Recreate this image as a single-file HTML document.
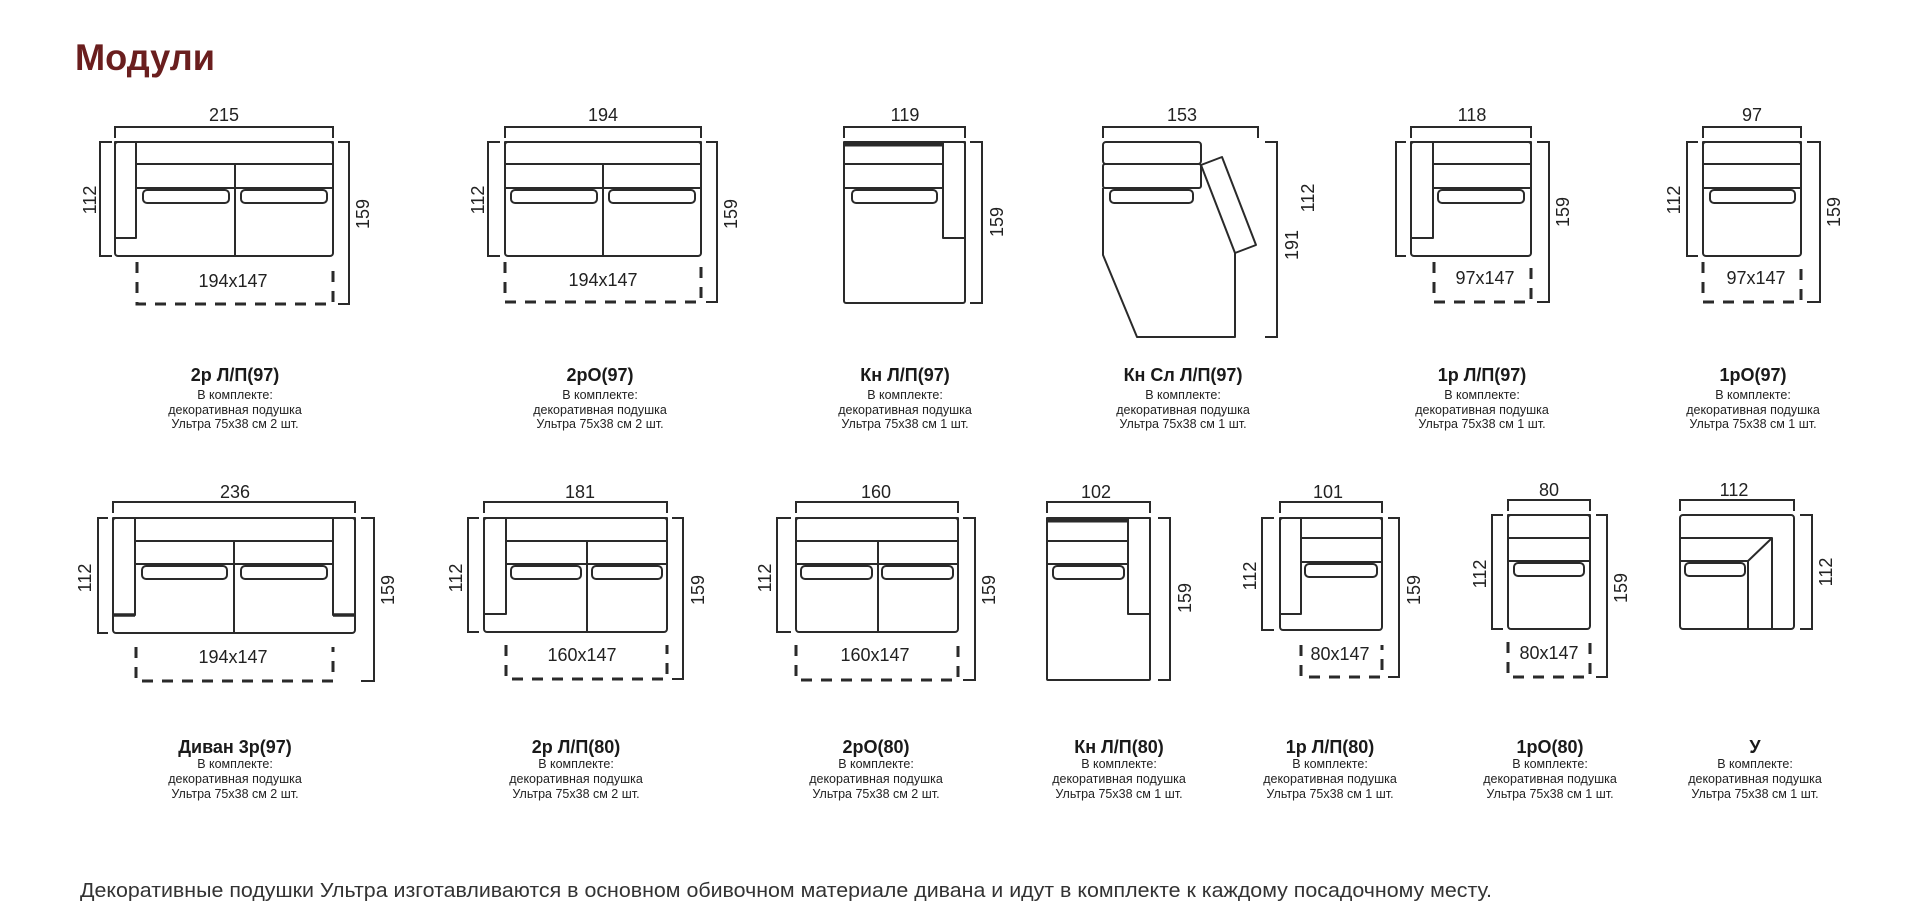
<!DOCTYPE html>
<html><head><meta charset="utf-8"><style>
html,body{margin:0;padding:0;background:#fff;}
svg{display:block;}
.s{fill:none;stroke:#2a2a2a;stroke-width:2;stroke-linejoin:round}
.d{fill:none;stroke:#2a2a2a;stroke-width:3;stroke-dasharray:11 9}
.b{fill:none;stroke:#2a2a2a;stroke-width:2}
.l{font-family:"Liberation Sans",sans-serif;font-size:18px;fill:#222;text-anchor:middle}
.t{font-family:"Liberation Sans",sans-serif;font-size:18px;font-weight:bold;fill:#1a1a1a;text-anchor:middle}
.u{font-family:"Liberation Sans",sans-serif;font-size:12.5px;fill:#222;text-anchor:middle}
</style></head><body>
<svg width="1920" height="909" viewBox="0 0 1920 909" xmlns="http://www.w3.org/2000/svg">
<text x="75" y="70" font-family="Liberation Sans,sans-serif" font-size="37" font-weight="bold" fill="#6a1e1e" textLength="140" lengthAdjust="spacingAndGlyphs">Модули</text>

<!-- M1 -->
<rect class="s" x="115" y="142" width="218" height="114" rx="3"/>
<rect class="s" x="115" y="142" width="21" height="96"/>
<rect class="s" x="136" y="142" width="197" height="22"/>
<rect class="s" x="136" y="164" width="197" height="24"/>
<line class="s" x1="235" y1="164" x2="235" y2="256"/>
<rect class="s" x="143" y="190" width="86" height="13" rx="4"/>
<rect class="s" x="241" y="190" width="86" height="13" rx="4"/>
<path class="d" d="M137 262V304H333V262"/>
<path class="b" d="M115 138V127H333V138M112 142H100V256H112M338 142H349V304H338"/>
<text class="l" x="224" y="121">215</text>
<text class="l" transform="translate(96,200) rotate(-90)">112</text>
<text class="l" transform="translate(369,214) rotate(-90)">159</text>
<text class="l" x="233" y="287">194x147</text>
<text class="t" x="235" y="381">2р Л/П(97)</text>
<text class="u" x="235" y="399">В комплекте:</text>
<text class="u" x="235" y="414">декоративная подушка</text>
<text class="u" x="235" y="428">Ультра 75x38 см 2 шт.</text>

<!-- M2 -->
<rect class="s" x="505" y="142" width="196" height="114" rx="3"/>
<rect class="s" x="505" y="142" width="196" height="22"/>
<rect class="s" x="505" y="164" width="196" height="24"/>
<line class="s" x1="603" y1="164" x2="603" y2="256"/>
<rect class="s" x="511" y="190" width="86" height="13" rx="4"/>
<rect class="s" x="609" y="190" width="86" height="13" rx="4"/>
<path class="d" d="M505 262V302H701V262"/>
<path class="b" d="M505 138V127H701V138M500 142H488V256H500M706 142H717V302H706"/>
<text class="l" x="603" y="121">194</text>
<text class="l" transform="translate(484,200) rotate(-90)">112</text>
<text class="l" transform="translate(737,214) rotate(-90)">159</text>
<text class="l" x="603" y="286">194x147</text>
<text class="t" x="600" y="381">2рО(97)</text>
<text class="u" x="600" y="399">В комплекте:</text>
<text class="u" x="600" y="414">декоративная подушка</text>
<text class="u" x="600" y="428">Ультра 75x38 см 2 шт.</text>

<!-- M3 -->
<rect class="s" x="844" y="142" width="121" height="161" rx="2"/>
<rect class="s" x="943" y="142" width="22" height="96"/>
<rect class="s" x="844" y="142" width="99" height="22"/>
<line x1="844" y1="144.5" x2="943" y2="144.5" stroke="#2a2a2a" stroke-width="4"/>
<rect class="s" x="844" y="164" width="99" height="24"/>
<rect class="s" x="852" y="190" width="85" height="13" rx="4"/>
<path class="b" d="M844 138V127H965V138M970 142H982V303H970"/>
<text class="l" x="905" y="121">119</text>
<text class="l" transform="translate(1003,222) rotate(-90)">159</text>
<text class="t" x="905" y="381">Кн Л/П(97)</text>
<text class="u" x="905" y="399">В комплекте:</text>
<text class="u" x="905" y="414">декоративная подушка</text>
<text class="u" x="905" y="428">Ультра 75x38 см 1 шт.</text>

<!-- M4 -->
<rect class="s" x="1103" y="142" width="98" height="22" rx="3"/>
<rect class="s" x="1103" y="164" width="98" height="24" rx="2"/>
<path class="s" d="M1103 188V255L1137 337H1235V253"/>
<polygon class="s" points="1201,165 1222,157 1256,245 1235,253"/>
<rect class="s" x="1110" y="190" width="83" height="13" rx="4"/>
<path class="b" d="M1103 138V127H1258V138M1265 142H1277V337H1265"/>
<text class="l" x="1182" y="121">153</text>
<text class="l" transform="translate(1298,245) rotate(-90)">191</text>
<text class="l" transform="translate(1314,198) rotate(-90)">112</text>
<text class="t" x="1183" y="381">Кн Сл Л/П(97)</text>
<text class="u" x="1183" y="399">В комплекте:</text>
<text class="u" x="1183" y="414">декоративная подушка</text>
<text class="u" x="1183" y="428">Ультра 75x38 см 1 шт.</text>

<!-- M5 -->
<rect class="s" x="1411" y="142" width="120" height="114" rx="3"/>
<rect class="s" x="1411" y="142" width="22" height="96"/>
<rect class="s" x="1433" y="142" width="98" height="22"/>
<rect class="s" x="1433" y="164" width="98" height="24"/>
<rect class="s" x="1438" y="190" width="86" height="13" rx="4"/>
<path class="d" d="M1434 262V302H1531V262"/>
<path class="b" d="M1411 138V127H1531V138M1406 142H1396V256H1406M1537 142H1549V302H1537"/>
<text class="l" x="1472" y="121">118</text>
<text class="l" transform="translate(1569,212) rotate(-90)">159</text>
<text class="l" x="1485" y="284">97x147</text>
<text class="t" x="1482" y="381">1р Л/П(97)</text>
<text class="u" x="1482" y="399">В комплекте:</text>
<text class="u" x="1482" y="414">декоративная подушка</text>
<text class="u" x="1482" y="428">Ультра 75x38 см 1 шт.</text>

<!-- M6 -->
<rect class="s" x="1703" y="142" width="98" height="114" rx="3"/>
<rect class="s" x="1703" y="142" width="98" height="22"/>
<rect class="s" x="1703" y="164" width="98" height="24"/>
<rect class="s" x="1710" y="190" width="85" height="13" rx="4"/>
<path class="d" d="M1703 262V302H1801V262"/>
<path class="b" d="M1703 138V127H1801V138M1698 142H1687V256H1698M1807 142H1820V302H1807"/>
<text class="l" x="1752" y="121">97</text>
<text class="l" transform="translate(1680,200) rotate(-90)">112</text>
<text class="l" transform="translate(1840,212) rotate(-90)">159</text>
<text class="l" x="1756" y="284">97x147</text>
<text class="t" x="1753" y="381">1рО(97)</text>
<text class="u" x="1753" y="399">В комплекте:</text>
<text class="u" x="1753" y="414">декоративная подушка</text>
<text class="u" x="1753" y="428">Ультра 75x38 см 1 шт.</text>

<!-- M7 -->
<rect class="s" x="113" y="518" width="242" height="115" rx="3"/>
<rect class="s" x="113" y="518" width="22" height="97"/>
<rect class="s" x="333" y="518" width="22" height="97"/>
<line x1="113" y1="615" x2="135" y2="615" stroke="#2a2a2a" stroke-width="3.5"/>
<line x1="333" y1="615" x2="355" y2="615" stroke="#2a2a2a" stroke-width="3.5"/>
<rect class="s" x="135" y="518" width="198" height="23"/>
<rect class="s" x="135" y="541" width="198" height="23"/>
<line class="s" x1="234" y1="541" x2="234" y2="633"/>
<rect class="s" x="142" y="566" width="85" height="13" rx="4"/>
<rect class="s" x="241" y="566" width="86" height="13" rx="4"/>
<path class="d" d="M136 647V681H333V647"/>
<path class="b" d="M113 513V502H355V513M108 518H98V633H108M361 518H374V681H361"/>
<text class="l" x="235" y="498">236</text>
<text class="l" transform="translate(91,578) rotate(-90)">112</text>
<text class="l" transform="translate(394,590) rotate(-90)">159</text>
<text class="l" x="233" y="663">194x147</text>
<text class="t" x="235" y="753">Диван 3р(97)</text>
<text class="u" x="235" y="768">В комплекте:</text>
<text class="u" x="235" y="783">декоративная подушка</text>
<text class="u" x="235" y="798">Ультра 75x38 см 2 шт.</text>

<!-- M8 -->
<rect class="s" x="484" y="518" width="183" height="114" rx="3"/>
<rect class="s" x="484" y="518" width="22" height="96"/>
<rect class="s" x="506" y="518" width="161" height="23"/>
<rect class="s" x="506" y="541" width="161" height="23"/>
<line class="s" x1="587" y1="541" x2="587" y2="632"/>
<rect class="s" x="511" y="566" width="70" height="13" rx="4"/>
<rect class="s" x="592" y="566" width="70" height="13" rx="4"/>
<path class="d" d="M506 645V679H667V645"/>
<path class="b" d="M484 513V502H667V513M479 518H468V632H479M672 518H683V679H672"/>
<text class="l" x="580" y="498">181</text>
<text class="l" transform="translate(462,578) rotate(-90)">112</text>
<text class="l" transform="translate(704,590) rotate(-90)">159</text>
<text class="l" x="582" y="661">160x147</text>
<text class="t" x="576" y="753">2р Л/П(80)</text>
<text class="u" x="576" y="768">В комплекте:</text>
<text class="u" x="576" y="783">декоративная подушка</text>
<text class="u" x="576" y="798">Ультра 75x38 см 2 шт.</text>

<!-- M9 -->
<rect class="s" x="796" y="518" width="162" height="114" rx="3"/>
<rect class="s" x="796" y="518" width="162" height="23"/>
<rect class="s" x="796" y="541" width="162" height="23"/>
<line class="s" x1="878" y1="541" x2="878" y2="632"/>
<rect class="s" x="801" y="566" width="71" height="13" rx="4"/>
<rect class="s" x="882" y="566" width="71" height="13" rx="4"/>
<path class="d" d="M796 645V680H958V645"/>
<path class="b" d="M796 513V502H958V513M791 518H777V632H791M963 518H975V680H963"/>
<text class="l" x="876" y="498">160</text>
<text class="l" transform="translate(771,578) rotate(-90)">112</text>
<text class="l" transform="translate(995,590) rotate(-90)">159</text>
<text class="l" x="875" y="661">160x147</text>
<text class="t" x="876" y="753">2рО(80)</text>
<text class="u" x="876" y="768">В комплекте:</text>
<text class="u" x="876" y="783">декоративная подушка</text>
<text class="u" x="876" y="798">Ультра 75x38 см 2 шт.</text>

<!-- M10 -->
<rect class="s" x="1047" y="518" width="103" height="162" rx="1"/>
<rect class="s" x="1128" y="518" width="22" height="96"/>
<rect class="s" x="1047" y="518" width="81" height="23"/>
<line x1="1047" y1="520.5" x2="1128" y2="520.5" stroke="#2a2a2a" stroke-width="4"/>
<rect class="s" x="1047" y="541" width="81" height="23"/>
<rect class="s" x="1053" y="566" width="71" height="13" rx="4"/>
<path class="b" d="M1047 513V502H1150V513M1158 518H1170V680H1158"/>
<text class="l" x="1096" y="498">102</text>
<text class="l" transform="translate(1191,598) rotate(-90)">159</text>
<text class="t" x="1119" y="753">Кн Л/П(80)</text>
<text class="u" x="1119" y="768">В комплекте:</text>
<text class="u" x="1119" y="783">декоративная подушка</text>
<text class="u" x="1119" y="798">Ультра 75x38 см 1 шт.</text>

<!-- M11 -->
<rect class="s" x="1280" y="518" width="102" height="112" rx="3"/>
<rect class="s" x="1280" y="518" width="21" height="96"/>
<rect class="s" x="1301" y="518" width="81" height="20"/>
<rect class="s" x="1301" y="538" width="81" height="24"/>
<rect class="s" x="1305" y="564" width="72" height="13" rx="4"/>
<path class="d" d="M1301 645V677H1382V645"/>
<path class="b" d="M1280 513V502H1382V513M1274 518H1262V630H1274M1388 518H1399V677H1388"/>
<text class="l" x="1328" y="498">101</text>
<text class="l" transform="translate(1256,576) rotate(-90)">112</text>
<text class="l" transform="translate(1420,590) rotate(-90)">159</text>
<text class="l" x="1340" y="660">80x147</text>
<text class="t" x="1330" y="753">1р Л/П(80)</text>
<text class="u" x="1330" y="768">В комплекте:</text>
<text class="u" x="1330" y="783">декоративная подушка</text>
<text class="u" x="1330" y="798">Ультра 75x38 см 1 шт.</text>

<!-- M12 -->
<rect class="s" x="1508" y="515" width="82" height="114" rx="3"/>
<rect class="s" x="1508" y="515" width="82" height="23"/>
<rect class="s" x="1508" y="538" width="82" height="23"/>
<rect class="s" x="1514" y="563" width="70" height="13" rx="4"/>
<path class="d" d="M1508 642V677H1590V642"/>
<path class="b" d="M1508 511V500H1590V511M1503 515H1492V629H1503M1596 515H1607V677H1596"/>
<text class="l" x="1549" y="496">80</text>
<text class="l" transform="translate(1486,574) rotate(-90)">112</text>
<text class="l" transform="translate(1627,588) rotate(-90)">159</text>
<text class="l" x="1549" y="659">80x147</text>
<text class="t" x="1550" y="753">1рО(80)</text>
<text class="u" x="1550" y="768">В комплекте:</text>
<text class="u" x="1550" y="783">декоративная подушка</text>
<text class="u" x="1550" y="798">Ультра 75x38 см 1 шт.</text>

<!-- M13 -->
<rect class="s" x="1680" y="515" width="114" height="114" rx="3"/>
<path class="s" d="M1680 538H1772L1748 561H1680M1748 561V629M1772 538V629"/>
<rect class="s" x="1685" y="563" width="60" height="13" rx="4"/>
<path class="b" d="M1680 511V500H1794V511M1800 515H1812V629H1800"/>
<text class="l" x="1734" y="496">112</text>
<text class="l" transform="translate(1832,572) rotate(-90)">112</text>
<text class="t" x="1755" y="753">У</text>
<text class="u" x="1755" y="768">В комплекте:</text>
<text class="u" x="1755" y="783">декоративная подушка</text>
<text class="u" x="1755" y="798">Ультра 75x38 см 1 шт.</text>

<text x="80" y="897" font-family="Liberation Sans,sans-serif" font-size="20" fill="#333" textLength="1412" lengthAdjust="spacingAndGlyphs">Декоративные подушки Ультра изготавливаются в основном обивочном материале дивана и идут в комплекте к каждому посадочному месту.</text>
</svg>
</body></html>
